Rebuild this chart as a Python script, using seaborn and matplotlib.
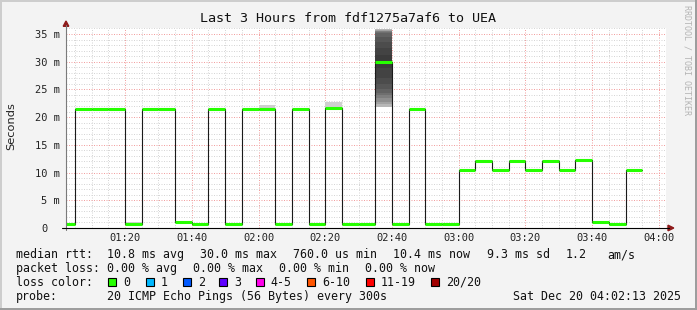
import numpy as np
import pandas as pd
import matplotlib
matplotlib.use("Agg")
import matplotlib.pyplot as plt
from matplotlib.patches import Polygon, Rectangle
from matplotlib.lines import Line2D
import seaborn as sns

# ---------------- data ----------------
starts = ["01:00", "01:05", "01:10", "01:15", "01:20", "01:25", "01:30", "01:35",
          "01:40", "01:45", "01:50", "01:55", "02:00", "02:05", "02:10", "02:15",
          "02:20", "02:25", "02:30", "02:35", "02:40", "02:45", "02:50", "02:55",
          "03:00", "03:05", "03:10", "03:15", "03:20", "03:25", "03:30", "03:35",
          "03:40", "03:45", "03:50"]
median_ms = [0.8, 21.5, 21.5, 21.5, 0.8, 21.5, 21.5, 1.0,
             0.8, 21.5, 0.8, 21.5, 21.5, 0.8, 21.5, 0.8,
             21.7, 0.8, 0.8, 30.0, 0.8, 21.5, 0.8, 0.8,
             10.5, 12.0, 10.5, 12.0, 10.5, 12.0, 10.5, 12.2,
             1.0, 0.8, 10.4]
smoke_lo = [0.8, 21.5, 21.5, 21.5, 0.8, 21.5, 21.5, 0.9,
            0.8, 21.5, 0.8, 21.5, 21.5, 0.8, 21.5, 0.8,
            21.5, 0.8, 0.8, 21.8, 0.8, 21.5, 0.8, 0.8,
            10.5, 12.0, 10.5, 12.0, 10.5, 12.0, 10.5, 12.2,
            1.0, 0.8, 10.4]
smoke_hi = [0.8, 21.5, 21.5, 21.5, 1.1, 21.5, 21.5, 1.1,
            0.8, 21.5, 0.8, 21.5, 22.2, 0.8, 21.5, 0.8,
            22.7, 0.8, 0.8, 35.9, 0.8, 21.5, 0.8, 0.8,
            10.5, 12.3, 10.5, 12.0, 10.5, 12.0, 10.5, 12.2,
            1.0, 0.8, 10.4]
loss_count = [0] * 35
spike_start = "02:35"
spike_pings = [21.8, 22.3, 22.8, 23.4, 24.0, 24.4, 25.0, 26.0, 27.0, 28.8,
               31.2, 32.5, 33.5, 34.5, 35.2, 35.4, 35.5, 35.6, 35.8, 35.9]

y_ticks = [0, 5, 10, 15, 20, 25, 30, 35]
y_labels = ["0", "5 m", "10 m", "15 m", "20 m", "25 m", "30 m", "35 m"]
x_ticks = ["01:20", "01:40", "02:00", "02:20", "02:40", "03:00", "03:20", "03:40", "04:00"]
t_first, t_last = "01:02:13", "04:02:13"

title = "Last 3 Hours from fdf1275a7af6 to UEA"
rtt_items = ["median rtt:", "10.8 ms avg", "30.0 ms max", "760.0 us min",
             "10.4 ms now", "9.3 ms sd", "1.2", "am/s"]
loss_items = ["packet loss:", "0.00 % avg", "0.00 % max", "0.00 % min", "0.00 % now"]
loss_labels = ["0", "1", "2", "3", "4-5", "6-10", "11-19", "20/20"]
loss_colors = ["#26ff00", "#00b8ff", "#0059ff", "#5e00ff", "#ff00ea", "#ff5500", "#ff0000", "#a10000"]
probe_text = "20 ICMP Echo Pings (56 Bytes) every 300s"
stamp = "Sat Dec 20 04:02:13 2025"


def to_min(s):
    parts = [int(p) for p in s.split(":")]
    while len(parts) < 3:
        parts.append(0)
    return parts[0] * 60 + parts[1] + parts[2] / 60.0


def loss_color(n):
    if n == 0: return loss_colors[0]
    if n == 1: return loss_colors[1]
    if n == 2: return loss_colors[2]
    if n == 3: return loss_colors[3]
    if n <= 5: return loss_colors[4]
    if n <= 10: return loss_colors[5]
    if n <= 19: return loss_colors[6]
    return loss_colors[7]


t0 = np.array([to_min(s) for s in starts])
med = np.array(median_ms)
step = 5.0

# ---------------- figure ----------------
sns.set_style("white")
plt.rcParams["font.family"] = ["DejaVu Sans Mono", "DejaVu Sans"]

W, H = 697, 310
fig = plt.figure(figsize=(W / 100, H / 100), dpi=100)
fig.patch.set_facecolor("#f3f3f3")


def fx(x):
    return x / W


def fy(y):
    return 1 - y / H


L, R, B, T = 65.7, 666.3, 228.0, 27.9
ax = fig.add_axes([fx(L), fy(B), fx(R) - fx(L), fy(T) - fy(B)])
ax.set_facecolor("white")
ax.set_xlim(to_min(t_first), to_min(t_last))
ax.set_ylim(0, 36.1)
for sp in ax.spines.values():
    sp.set_visible(False)

# grid
ax.set_xticks([to_min(s) for s in x_ticks])
ax.set_xticks(np.arange(65, 245, 5), minor=True)
ax.set_yticks(y_ticks)
ax.set_yticks(np.arange(1, 37, 1), minor=True)
ax.set_xticklabels(x_ticks)
ax.set_yticklabels(y_labels)
ax.set_axisbelow(True)
ax.grid(which="minor", color="#d6d6d6", linestyle=(0, (1, 1.5)), linewidth=0.72)
ax.grid(which="major", color="#f2a0a0", linestyle=(0, (1, 1.5)), linewidth=0.72)
ax.tick_params(axis="both", which="both", labelsize=7.5, labelcolor="#222222")
ax.tick_params(axis="y", which="major", length=1.5, color="#f0a0a0", pad=2.6)
ax.tick_params(axis="y", which="minor", length=1.5, color="#d2d2d2")
ax.tick_params(axis="x", which="major", length=1.5, color="#f0a0a0", pad=2.4)
ax.tick_params(axis="x", which="minor", length=0)
ax.yaxis.get_major_ticks()[0].set_pad(2.6 + 8.6)

# smoke (min/max of pings)
for s, lo, hi in zip(t0, smoke_lo, smoke_hi):
    if hi > lo:
        ax.fill_between([s, s + step], lo, hi, color="#cfcfcf", lw=0, zorder=2)
# dense smoke for the spike interval
sp_s = to_min(spike_start)
pings = sorted(spike_pings)
n = len(pings)
for i in range(n // 2):
    ax.fill_between([sp_s, sp_s + step], pings[i], pings[n - 1 - i],
                    color="black", alpha=0.115, lw=0, zorder=3)

# median step line
df = pd.DataFrame({"t": np.append(t0, t0[-1] + step), "rtt": np.append(med, med[-1])})
sns.lineplot(data=df, x="t", y="rtt", drawstyle="steps-post", color="#1a1a1a",
             linewidth=0.8, estimator=None, sort=False, ax=ax, zorder=4)
ax.set_xlabel("")
ax.set_ylabel("")
# loss-coloured median segments
ax.hlines(med, t0, t0 + step, colors=[loss_color(c) for c in loss_count],
          linewidth=2.2, zorder=5, capstyle="butt")

# axes lines and arrows
fig.add_artist(Line2D([fx(L), fx(L)], [fy(230), fy(25)], color="#7a7a7a", lw=0.8))
fig.add_artist(Line2D([fx(62), fx(669)], [fy(228), fy(228)], color="black", lw=0.8))
arrow_c = "#8e1a1a"
fig.add_artist(Polygon([(fx(63.2), fy(26.3)), (fx(68.8), fy(26.3)), (fx(66.0), fy(21.0))],
                       closed=True, color=arrow_c, transform=fig.transFigure))
fig.add_artist(Polygon([(fx(668.0), fy(225.2)), (fx(668.0), fy(230.8)), (fx(673.8), fy(228))],
                       closed=True, color=arrow_c, transform=fig.transFigure))

# texts
mono = "DejaVu Sans Mono"
fig.text(fx(348), fy(18), title, ha="center", va="center", fontsize=9.6, family=mono, color="#111111")
fig.text(fx(11), fy(126), "Seconds", ha="center", va="center", rotation=90, fontsize=8.2,
         family="DejaVu Sans", color="#222222")
fig.text(fx(687.5), fy(60), "RRDTOOL / TOBI OETIKER", ha="center", va="center", rotation=270,
         fontsize=6.0, family=mono, color="#b4b4b4")

lf = 8.4
row_y = [254.5, 268.3, 282.0, 296.5]
rtt_x = [16, 107.3, 200, 293.3, 393.3, 486.7, 565.3, 607.3]
for xx, s in zip(rtt_x, rtt_items):
    fig.text(fx(xx), fy(row_y[0]), s, ha="left", va="center", fontsize=lf, family=mono, color="#111111")
loss_x = [16, 107.3, 193.3, 279.3, 365]
for xx, s in zip(loss_x, loss_items):
    fig.text(fx(xx), fy(row_y[1]), s, ha="left", va="center", fontsize=lf, family=mono, color="#111111")
fig.text(fx(16), fy(row_y[2]), "loss color:", ha="left", va="center", fontsize=lf, family=mono, color="#111111")
box_x = [108.3, 145.7, 182.7, 219, 255.7, 307.3, 365.7, 430.7]
lab_x = [123.3, 160.7, 197.7, 234.3, 270.7, 322.3, 380.7, 445.7]
for bx, lx, lab, c in zip(box_x, lab_x, loss_labels, loss_colors):
    fig.add_artist(Rectangle((fx(bx), fy(row_y[2] + 4.2)), 8.0 / W, 8.0 / H, facecolor=c,
                             edgecolor="black", lw=0.8, transform=fig.transFigure))
    fig.text(fx(lx), fy(row_y[2]), lab, ha="left", va="center", fontsize=lf, family=mono, color="#111111")
fig.text(fx(16), fy(row_y[3]), "probe:", ha="left", va="center", fontsize=lf, family=mono, color="#111111")
fig.text(fx(107.3), fy(row_y[3]), probe_text, ha="left", va="center", fontsize=lf, family=mono, color="#111111")
fig.text(fx(681), fy(row_y[3]), stamp, ha="right", va="center", fontsize=lf, family=mono, color="#111111")

# frame
fig.add_artist(Rectangle((0, 0), 2.0 / W, 1, color="#cdcdcd", transform=fig.transFigure, lw=0))
fig.add_artist(Rectangle((0, 1 - 2.0 / H), 1, 2.0 / H, color="#cdcdcd", transform=fig.transFigure, lw=0))
fig.add_artist(Rectangle((1 - 2.0 / W, 0), 2.0 / W, 1, color="#9d9d9d", transform=fig.transFigure, lw=0))
fig.add_artist(Rectangle((0, 0), 1, 2.5 / H, color="#9d9d9d", transform=fig.transFigure, lw=0))

fig.savefig("out.png", dpi=100, facecolor=fig.get_facecolor())
